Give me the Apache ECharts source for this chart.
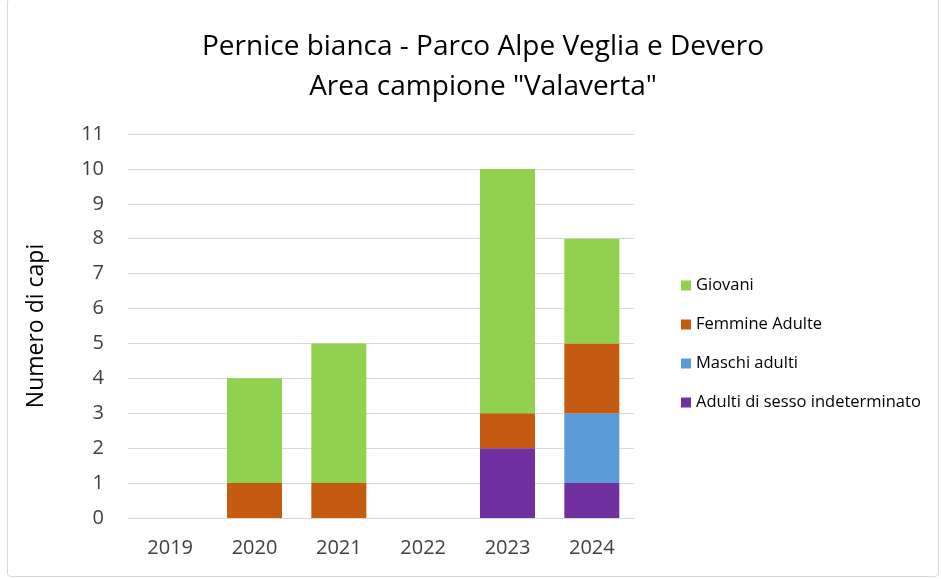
<!DOCTYPE html>
<html>
<head>
<meta charset="utf-8">
<script src="https://cdn.jsdelivr.net/npm/echarts@6/dist/echarts.min.js"></script>
<style>
html,body{margin:0;padding:0;background:#fff;}
#c{width:941px;height:579px;}
#frame{position:absolute;left:7px;top:-2px;width:932px;height:579px;border:1px solid #d9d9d9;border-radius:4px;pointer-events:none;box-sizing:border-box;}
</style>
</head>
<body>
<div id="c"></div>
<div id="frame"></div>
<script>
const years = ['2019','2020','2021','2022','2023','2024'];
const giovani = [0, 3, 4, 0, 7, 3];
const femmine = [0, 1, 1, 0, 1, 2];
const maschi = [0, 0, 0, 0, 0, 2];
const indeterminati = [0, 0, 0, 0, 2, 1];
const yTicks = [0,1,2,3,4,5,6,7,8,9,10,11];

const font = '"Open Sans", "Liberation Sans", sans-serif';
const chart = echarts.init(document.getElementById('c'), null, {renderer:'canvas'});
function s(name, data, color){
  return {name, type:'bar', stack:'tot', data, barWidth:55,
    itemStyle:{color}, emphasis:{disabled:true}};
}
chart.setOption({
  animation:false,
  title:{
    text:'Pernice bianca - Parco Alpe Veglia e Devero\nArea campione "Valaverta"',
    left:478, top:22, textAlign:'center',
    textStyle:{fontFamily:font, fontSize:28, fontWeight:'normal', color:'#000', lineHeight:40}
  },
  legend:{
    orient:'vertical', left:676, top:272, itemGap:22, itemWidth:10, itemHeight:10,
    icon:'rect',
    data:['Giovani','Femmine Adulte','Maschi adulti','Adulti di sesso indeterminato'],
    textStyle:{fontFamily:font, fontSize:16.5, color:'#000'}
  },
  grid:{left:128, right:307, top:134, bottom:61},
  xAxis:{
    type:'category', data:years,
    axisLine:{lineStyle:{color:'#d9d9d9'}},
    axisTick:{show:false},
    axisLabel:{fontFamily:font, fontSize:20, color:'#404040', margin:20}
  },
  yAxis:{
    type:'value', min:0, max:11, interval:1,
    name:'Numero di capi', nameLocation:'middle', nameGap:80, nameRotate:90,
    nameTextStyle:{fontFamily:font, fontSize:23, color:'#000'},
    axisLine:{show:false}, axisTick:{show:false},
    axisLabel:{fontFamily:font, fontSize:20, color:'#404040', margin:24,
      formatter:v=>String(yTicks[v])},
    splitLine:{lineStyle:{color:'#d9d9d9'}}
  },
  series:[
    s('Adulti di sesso indeterminato', indeterminati, '#7030A0'),
    s('Maschi adulti', maschi, '#5B9BD5'),
    s('Femmine Adulte', femmine, '#C55A11'),
    s('Giovani', giovani, '#92D050')
  ]
});
</script>
</body>
</html>
